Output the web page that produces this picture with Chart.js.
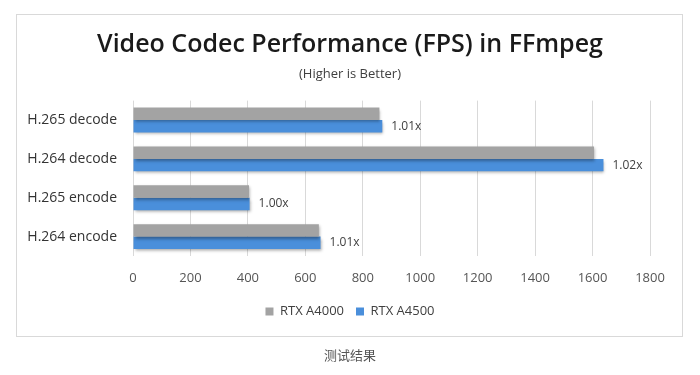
<!DOCTYPE html>
<html>
<head>
<meta charset="utf-8">
<script src="https://cdn.jsdelivr.net/npm/chart.js@4/dist/chart.umd.min.js"></script>
<style>
  html, body { margin: 0; padding: 0; background: #ffffff; }
  #wrap { position: relative; width: 700px; height: 375px; overflow: hidden; }
  #frame { position: absolute; left: 16px; top: 14px; width: 667px; height: 323px; border: 1px solid #d9d9d9; box-sizing: border-box; }
  #c { position: absolute; left: 0; top: 0; }
  #caption { position: absolute; left: 0; width: 700px; top: 345px; text-align: center;
    font-family: "Noto Sans CJK SC", "Noto Sans", sans-serif; font-size: 13px; color: #555; }
</style>
</head>
<body>
<div id="wrap">
  <div id="frame"></div>
  <canvas id="c" width="700" height="375"></canvas>
  <div id="caption">测试结果</div>
</div>
<script>
const categories = ["H.265 decode", "H.264 decode", "H.265 encode", "H.264 encode"];
const seriesNames = ["RTX A4000", "RTX A4500"];
const rtxA4000 = [858, 1605, 404, 647];
const rtxA4500 = [868, 1638, 406, 653];
const ratioLabels = ["1.01x", "1.02x", "1.00x", "1.01x"];
const xTicks = [0, 200, 400, 600, 800, 1000, 1200, 1400, 1600, 1800];

const FONT = '"Open Sans", "Noto Sans", sans-serif';

const shadowPlugin = {
  id: 'barShadow',
  beforeDatasetsDraw(chart) {
    const ctx = chart.ctx;
    ctx.save();
    ctx.shadowColor = 'rgba(0,0,0,0.35)';
    ctx.shadowBlur = 3;
    ctx.shadowOffsetX = 1;
    ctx.shadowOffsetY = 2;
  },
  afterDatasetsDraw(chart) {
    chart.ctx.restore();
  }
};

const ratioPlugin = {
  id: 'ratioLabels',
  afterDatasetsDraw(chart) {
    const ctx = chart.ctx;
    const meta = chart.getDatasetMeta(1);
    ctx.save();
    ctx.shadowColor = 'transparent';
    ctx.font = '12px ' + FONT;
    ctx.fillStyle = '#404040';
    ctx.textAlign = 'left';
    ctx.textBaseline = 'middle';
    meta.data.forEach((bar, i) => {
      ctx.fillText(ratioLabels[i], bar.x + 9, bar.y);
    });
    ctx.restore();
  }
};

new Chart(document.getElementById('c'), {
  type: 'bar',
  data: {
    labels: categories,
    datasets: [
      { label: seriesNames[0], data: rtxA4000, backgroundColor: '#a3a3a3', borderWidth: 0 },
      { label: seriesNames[1], data: rtxA4500, backgroundColor: '#4a8fdb', borderWidth: 0 }
    ]
  },
  options: {
    indexAxis: 'y',
    responsive: false,
    animation: false,
    devicePixelRatio: 1,
    datasets: { bar: { categoryPercentage: 0.64, barPercentage: 1.0 } },
    layout: { padding: { top: 14, right: 16, bottom: 47, left: 16 } },
    scales: {
      x: {
        min: 0, max: 1800,
        afterBuildTicks(scale) { scale.ticks = xTicks.map(v => ({ value: v })); },
        afterFit(scale) { scale.height = 37; },
        grid: { color: '#d9d9d9', drawTicks: false },
        border: { display: false },
        ticks: { padding: 14, color: '#555', font: { family: FONT, size: 13 },
          callback: (v) => String(v) }
      },
      y: {
        afterFit(scale) { scale.width = 117; },
        grid: { display: false, drawTicks: false },
        border: { display: false },
        ticks: { padding: 16, color: '#333', font: { family: FONT, size: 14 } }
      },
      yRight: {
        type: 'category',
        position: 'right',
        labels: categories,
        afterFit(scale) { scale.width = 34; },
        grid: { display: false, drawTicks: false },
        border: { display: false },
        ticks: { display: false }
      }
    },
    plugins: {
      title: {
        display: true,
        text: 'Video Codec Performance (FPS) in FFmpeg',
        color: '#1a1a1a',
        font: { family: FONT, size: 25, weight: '600' },
        padding: { top: 16, bottom: 5 }
      },
      subtitle: {
        display: true,
        text: '(Higher is Better)',
        color: '#404040',
        font: { family: FONT, size: 13 },
        padding: { top: 1, bottom: 19 }
      },
      legend: {
        position: 'bottom',
        labels: { boxWidth: 8, boxHeight: 8, color: '#404040', padding: 12, font: { family: FONT, size: 13 } }
      },
      tooltip: { enabled: false }
    }
  },
  plugins: [shadowPlugin, ratioPlugin]
});
</script>
</body>
</html>
